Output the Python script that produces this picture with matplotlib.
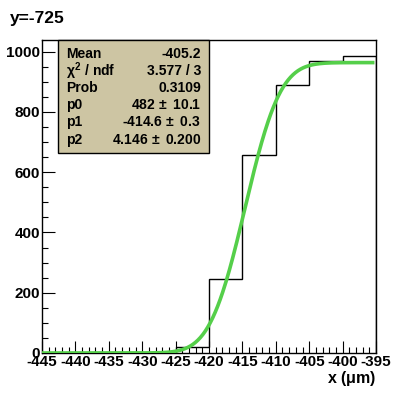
import numpy as np
import matplotlib
matplotlib.use("Agg")
import matplotlib.pyplot as plt
from matplotlib.patches import Rectangle
from matplotlib.ticker import MultipleLocator
from math import erf

# histogram data (bin width 5 um)
bin_edges = [-445, -440, -435, -430, -425, -420, -415, -410, -405, -400, -395]
counts = [0, 0, 0, 0, 20, 247, 658, 888, 968, 987]

# fit parameters shown in the stats box
p0, p1, p2 = 482.0, -414.6, 4.146

stats_names = ["Mean", r"$\chi^2$ / ndf", "Prob", "p0", "p1", "p2"]
stats_values = ["-405.2", "3.577 / 3", "0.3109", r"482$\,\pm$ 10.1",
                r"-414.6$\,\pm$ 0.3", r"4.146$\,\pm$ 0.200"]

plt.rcParams['font.family'] = ['Liberation Sans', 'DejaVu Sans']
plt.rcParams['axes.unicode_minus'] = False
plt.rcParams['mathtext.fontset'] = 'custom'
plt.rcParams['mathtext.rm'] = 'Liberation Sans:bold'
plt.rcParams['mathtext.it'] = 'Liberation Sans:bold'

fig = plt.figure(figsize=(4.18, 3.93), dpi=100)
ax = fig.add_axes([42/418, 1 - 353/393, 334/418, 313/393])

ax.stairs(counts, bin_edges, color='black', linewidth=1.0, baseline=0, zorder=2)

# fitted curve from the box parameters
xf = np.linspace(-445, -395.5, 400)
yf = [p0 * (1 + erf((x - p1) / (np.sqrt(2) * p2))) for x in xf]
ax.plot(xf, yf, color='#55cf4a', linewidth=2.6, zorder=3)

ax.set_xlim(-445, -395)
ax.set_ylim(0, 1039)

ax.xaxis.set_major_locator(MultipleLocator(5))
ax.xaxis.set_minor_locator(MultipleLocator(1))
ax.yaxis.set_major_locator(MultipleLocator(200))
ax.yaxis.set_minor_locator(MultipleLocator(50))
ax.tick_params(which='both', direction='in', top=False, right=False, width=0.8)
ax.tick_params(which='major', length=9, labelsize=11, pad=1.5)
ax.tick_params(which='minor', length=4.5)
for lab in ax.get_xticklabels() + ax.get_yticklabels():
    lab.set_fontweight('bold')
for s in ax.spines.values():
    s.set_linewidth(1.0)

ax.set_xlabel(r"x ($\mu$m)", fontsize=11.5, fontweight='bold', loc='right', labelpad=0)
fig.text(10/418, 1 - 18/393, "y=-725", fontsize=12.5, fontweight='bold', va='center')

# stats box
bx0 = (58 - 42) / 334
bx1 = (209 - 42) / 334
by0 = (353 - 153) / 313
ax.add_patch(Rectangle((bx0, by0), bx1 - bx0, 1 - by0, transform=ax.transAxes,
                       facecolor='#cdc5a3', edgecolor='black', linewidth=1.0,
                       zorder=5, clip_on=False))
rows_px = [54, 71, 88, 105, 122, 140]
for name, val, ypx in zip(stats_names, stats_values, rows_px):
    yy = (353 - ypx) / 313
    ax.text((66 - 42) / 334, yy, name, transform=ax.transAxes, fontsize=10,
            fontweight='bold', va='center', ha='left', zorder=6)
    ax.text((201 - 42) / 334, yy, val, transform=ax.transAxes, fontsize=10,
            fontweight='bold', va='center', ha='right', zorder=6)

fig.savefig("out.png", dpi=100)
